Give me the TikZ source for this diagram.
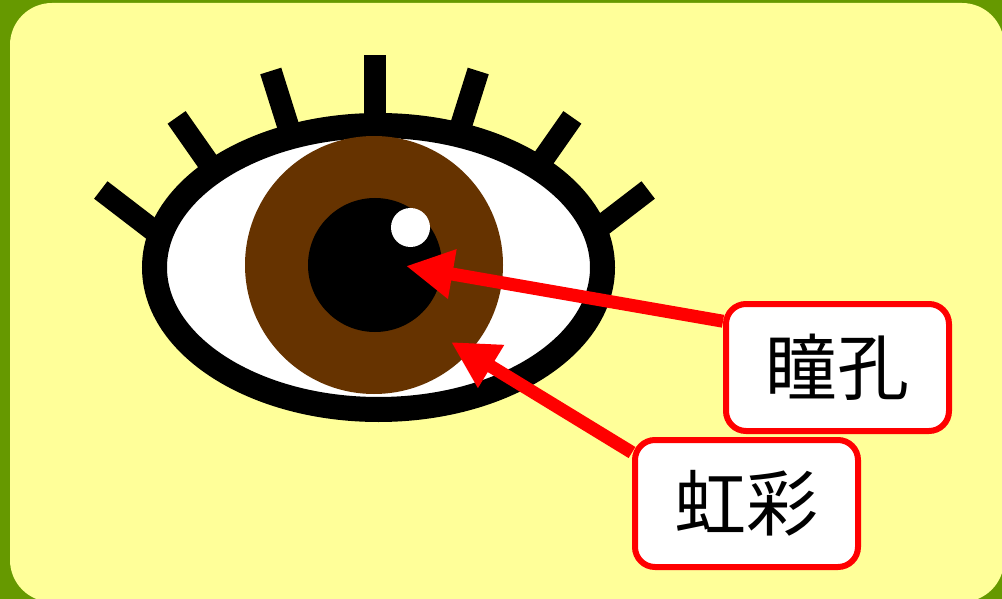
\documentclass[tikz,border=0pt]{standalone}
\usepackage{fontspec}
\newfontfamily\jpfont{Noto Sans CJK JP}
\usepackage{tikz}
\usetikzlibrary{arrows.meta, calc}
\definecolor{frame}{HTML}{669900}
\definecolor{paper}{HTML}{FFFF99}
\definecolor{iris}{HTML}{663300}
\tikzstyle{lash} = [line width=22pt, black]
\tikzstyle{tag} = [rectangle, rounded corners=20pt, minimum width=223pt, minimum height=127pt, inner sep=0pt, draw=red, line width=6pt, fill=white, font=\jpfont\fontsize{72pt}{80pt}\selectfont]
\tikzstyle{pointer} = [line width=13pt, red, -{Triangle[length=47pt, width=47pt]}]

\begin{document}
\begin{tikzpicture}[x=1pt, y=-1pt]
  \useasboundingbox (0,0) rectangle (1002,599);
  \fill[frame] (0,0) rectangle (1002,599);
  \fill[paper, rounded corners=42pt] (10,3) rectangle (1004,602);

  % eyelashes, fanned out from one point below the eye
  \coordinate (lashc) at (374.5,400);
  \foreach \a in {37.5,55,72.5,90,107.5,125,142.5}
    \draw[lash] ($(lashc)+(\a:250pt)$) -- ($(lashc)+(\a:345pt)$);

  % eyeball, iris, pupil
  \coordinate (eye) at (378.5,267.5);
  \draw[line width=25pt, fill=white] (eye) ellipse [x radius=224, y radius=142];
  \fill[iris] (374,265) circle (129);
  \fill[black] (375,265) circle (67);
  \fill[white] (410.5,227.5) circle (19.5);

  \coordinate (pupilpt) at (406,266);
  \coordinate (irispt) at (451,342);

  \node[tag] (pupiltag) at (837.5,367.5) {瞳孔};
  \node[tag] (iristag) at (746.5,503.5) {虹彩};

  \draw[pointer] (pupiltag.158) -- (pupilpt);
  \draw[pointer] (iristag.156) -- (irispt);
\end{tikzpicture}
\end{document}
